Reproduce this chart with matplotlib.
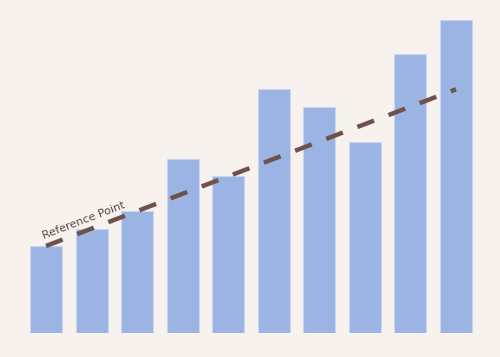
import matplotlib
matplotlib.use('Agg')
import matplotlib.pyplot as plt

# Bar values
categories = list(range(10))
values = [25, 30, 35, 50, 45, 70, 65, 55, 80, 90]

# Reference line: start and end points
ref_x = [0, 9]
ref_y = [25, 70]
ref_label = 'Reference Point'

bg = '#f7f2ee'
fig = plt.figure(figsize=(5, 3.57), dpi=100, facecolor=bg)
ax = fig.add_axes([8/500, 24/357, 486/500, 329/357])
ax.set_facecolor(bg)

ax.bar(categories, values, width=0.7, color='#9bb4e3', edgecolor='#c9d6f0', linewidth=0.8)
ax.plot(ref_x, ref_y, color='#6e514b', lw=3.2, ls=(0, (4, 3.5)))
ax.set_ylim(0, 94.5)

# label along the line
ax.text(ref_x[0] - 0.02, ref_y[0] + 1.4, ref_label, rotation=21, rotation_mode='anchor',
        ha='left', va='bottom', fontsize=8, color='#5a4745')

ax.axis('off')
fig.savefig('out.png', facecolor=bg)
